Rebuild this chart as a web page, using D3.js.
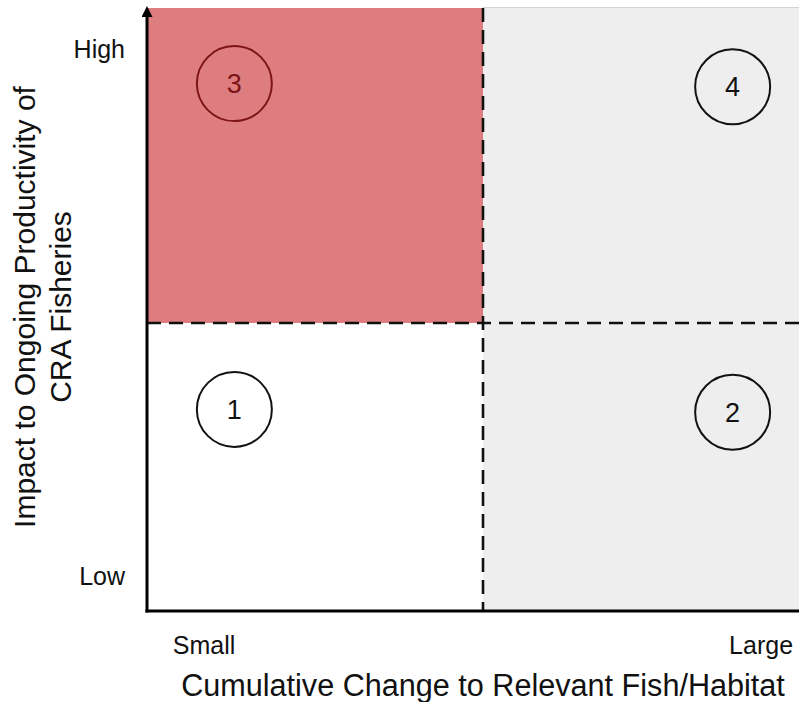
<!DOCTYPE html>
<html>
<head>
<meta charset="utf-8">
<script src="https://cdn.jsdelivr.net/npm/d3@7"></script>
<style>
  html, body { margin: 0; padding: 0; background: #fff; }
  svg { display: block; font-family: "Liberation Sans", Arial, sans-serif; }
</style>
</head>
<body>
<svg id="chart" width="799" height="702"></svg>
<script>
// ---- data ----
const quadrantIds = ["Q1", "Q2", "Q3", "Q4"];
const quadrantX0 = [0, 1, 0, 1];
const quadrantY0 = [0, 0, 1, 1];
const circleLabels = ["1", "2", "3", "4"];
const circleX = [0.26, 1.79, 0.26, 1.79];
const circleY = [0.70, 0.69, 1.76, 1.75];
const yTickLabels = ["Low", "High"];
const yTickValues = [0.12, 1.87];
const xTickLabels = ["Small", "Large"];
const xTickValues = [0.17, 1.88];
const xTitle = "Cumulative Change to Relevant Fish/Habitat";
const yTitleLines = ["Impact to Ongoing Productivity of", "CRA Fisheries"];

// ---- styles ----
const quadFill = { Q1: "#ffffff", Q2: "#eeeeee", Q3: "#de7d7f", Q4: "#eeeeee" };
const circleColor = { "1": "#111", "2": "#111", "3": "#7d1416", "4": "#111" };

const svg = d3.select("#chart");
const x = d3.scaleLinear().domain([0, 1, 2]).range([147, 483, 799]);
const y = d3.scaleLinear().domain([0, 1, 2]).range([611, 323, 8]);

const quads = quadrantIds.map((id, i) => ({ id, x0: quadrantX0[i], y0: quadrantY0[i] }));

svg.append("g").selectAll("rect").data(quads).join("rect")
  .attr("x", d => x(d.x0))
  .attr("y", d => y(d.y0 + 1))
  .attr("width", d => x(d.x0 + 1) - x(d.x0))
  .attr("height", d => y(d.y0) - y(d.y0 + 1))
  .attr("fill", d => quadFill[d.id]);

// faint top edge of grey region
svg.append("line")
  .attr("x1", x(1)).attr("x2", x(2))
  .attr("y1", y(2) - 0.5).attr("y2", y(2) - 0.5)
  .attr("stroke", "#d4d4d4").attr("stroke-width", 1);

// dashed dividers
svg.append("line")
  .attr("x1", x(1)).attr("x2", x(1))
  .attr("y1", y(2)).attr("y2", y(0))
  .attr("stroke", "#111").attr("stroke-width", 2.6)
  .attr("stroke-dasharray", "14,8");
svg.append("line")
  .attr("x1", x(0)).attr("x2", x(2))
  .attr("y1", y(1)).attr("y2", y(1))
  .attr("stroke", "#111").attr("stroke-width", 2.6)
  .attr("stroke-dasharray", "14,8");

// axes
svg.append("defs").append("marker")
  .attr("id", "arrow").attr("viewBox", "0 0 10 10")
  .attr("refX", 5).attr("refY", 10)
  .attr("markerWidth", 11).attr("markerHeight", 11)
  .attr("markerUnits", "userSpaceOnUse")
  .attr("orient", "0")
  .append("path").attr("d", "M0,10 L5,0 L10,10 Z").attr("fill", "#000");

svg.append("line")
  .attr("x1", x(0)).attr("x2", x(0))
  .attr("y1", y(0) + 1.5).attr("y2", y(2) + 9)
  .attr("stroke", "#000").attr("stroke-width", 3)
  .attr("marker-end", "url(#arrow)");
svg.append("line")
  .attr("x1", x(0) - 1.5).attr("x2", x(2))
  .attr("y1", y(0)).attr("y2", y(0))
  .attr("stroke", "#000").attr("stroke-width", 3);

// circles
const circles = circleLabels.map((l, i) => ({ label: l, cx: circleX[i], cy: circleY[i] }));
const cg = svg.append("g").selectAll("g").data(circles).join("g")
  .attr("transform", d => `translate(${x(d.cx)},${y(d.cy)})`);
cg.append("circle").attr("r", 37.5)
  .attr("fill", "none")
  .attr("stroke", d => circleColor[d.label])
  .attr("stroke-width", 2);
cg.append("text")
  .attr("text-anchor", "middle").attr("dy", "0.36em")
  .attr("font-size", 27)
  .attr("fill", d => circleColor[d.label])
  .text(d => d.label);

// tick labels
svg.append("g").selectAll("text").data(yTickLabels).join("text")
  .attr("x", 125)
  .attr("y", (d, i) => y(yTickValues[i]))
  .attr("dy", "0.36em")
  .attr("text-anchor", "end")
  .attr("font-size", 25)
  .attr("fill", "#111")
  .text(d => d);

svg.append("g").selectAll("text").data(xTickLabels).join("text")
  .attr("x", (d, i) => x(xTickValues[i]))
  .attr("y", 654)
  .attr("text-anchor", "middle")
  .attr("font-size", 25)
  .attr("fill", "#111")
  .text(d => d);

// axis titles
svg.append("text")
  .attr("x", 483).attr("y", 696)
  .attr("text-anchor", "middle")
  .attr("font-size", 30.6)
  .attr("fill", "#111")
  .text(xTitle);

svg.append("g")
  .attr("transform", "translate(0,307) rotate(-90)")
  .selectAll("text").data(yTitleLines).join("text")
  .attr("x", 0)
  .attr("y", (d, i) => 35 + i * 36)
  .attr("text-anchor", "middle")
  .attr("font-size", 30)
  .attr("fill", "#111")
  .text(d => d);
</script>
</body>
</html>
